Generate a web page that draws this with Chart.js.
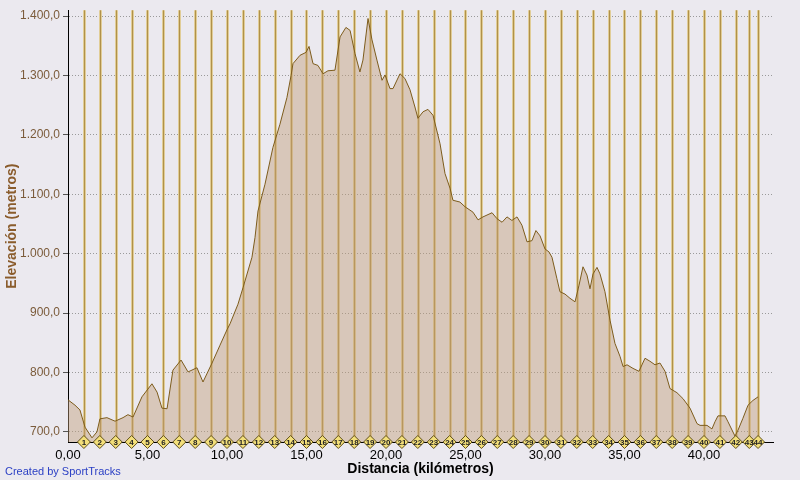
<!DOCTYPE html>
<html>
<head>
<meta charset="utf-8">
<script src="https://cdn.jsdelivr.net/npm/chart.js@4.4.0/dist/chart.umd.min.js"></script>
<style>
    html, body { margin: 0; padding: 0; background: #ebe9ef; }
    #wrap { width: 800px; height: 480px; position: relative; }
</style>
</head>
<body>
<div id="wrap"><canvas id="perfil"></canvas></div>
<script>
// perfil de elevación
const distKm = [0, 0.44, 0.75, 1.07, 1.51, 1.82, 2.01, 2.45, 2.96, 3.46,
    3.77, 4.09, 4.65, 5.28, 5.60, 5.91, 6.23, 6.60, 7.11, 7.55,
    8.11, 8.49, 9.06, 9.56, 10.00, 10.19, 10.69, 11.01, 11.57, 11.76,
    11.95, 12.39, 12.89, 13.33, 13.77, 14.03, 14.15, 14.59, 14.97, 15.16,
    15.41, 15.72, 16.04, 16.35, 16.79, 17.11, 17.48, 17.74, 18.05, 18.36,
    18.55, 18.87, 19.12, 19.43, 19.75, 19.94, 20.25, 20.44, 20.88, 21.19,
    21.51, 21.82, 22.01, 22.33, 22.64, 22.96, 23.40, 23.71, 24.03, 24.21,
    24.65, 24.97, 25.47, 25.79, 26.10, 26.67, 26.98, 27.30, 27.61, 27.92,
    28.24, 28.55, 28.87, 29.18, 29.43, 29.69, 30.00, 30.25, 30.44, 30.75,
    30.94, 31.26, 31.57, 31.89, 32.14, 32.39, 32.64, 32.83, 33.02, 33.27,
    33.46, 33.77, 34.09, 34.40, 34.72, 34.91, 35.16, 35.53, 35.91, 36.29,
    36.60, 36.92, 37.23, 37.55, 37.86, 38.30, 38.68, 39.12, 39.56, 39.75,
    40.19, 40.50, 40.69, 40.88, 41.32, 41.51, 41.82, 41.95, 42.14, 42.45,
    42.77, 43.08, 43.40];

const elevation = [754, 745, 737, 708, 690, 700, 722, 724, 718, 724,
    729, 725, 759, 781, 767, 740, 739, 804, 821, 801,
    808, 784, 816, 846, 872, 882, 915, 943, 994, 1027,
    1072, 1117, 1179, 1218, 1263, 1300, 1320, 1334, 1339, 1349,
    1320, 1317, 1303, 1308, 1309, 1365, 1381, 1376, 1337, 1306,
    1326, 1396, 1360, 1326, 1292, 1301, 1278, 1278, 1303, 1295,
    1276, 1247, 1228, 1239, 1243, 1233, 1185, 1135, 1110, 1090,
    1087, 1079, 1070, 1057, 1062, 1069, 1059, 1053, 1062, 1056,
    1062, 1048, 1020, 1022, 1039, 1030, 1008, 1003, 994, 958,
    936, 932, 925, 919, 947, 978, 964, 941, 966, 977,
    966, 936, 888, 849, 827, 810, 813, 807, 802, 824,
    819, 813, 816, 802, 773, 766, 756, 740, 714, 711,
    711, 705, 717, 727, 727, 717, 700, 693, 703, 723,
    745, 753, 759];

// marcas de kilómetro (1..42, luego 43 y 44 al final)
const markerKm = [1, 2, 3, 4, 5, 6, 7, 8, 9, 10, 11, 12, 13, 14, 15, 16, 17, 18, 19, 20,
    21, 22, 23, 24, 25, 26, 27, 28, 29, 30, 31, 32, 33, 34, 35, 36, 37, 38, 39, 40,
    41, 42, 42.85, 43.4];
const markerLabels = markerKm.map((k, i) => String(i + 1));

const yTicks = [700, 800, 900, 1000, 1100, 1200, 1300, 1400];
const xTicks = [0, 5, 10, 15, 20, 25, 30, 35, 40];

const Y_MIN = 683;
const Y_MAX = 1410;
const X_MAX = 44.34;

function fmtElev(v) {
    const s = String(Math.round(v));
    const int = s.length > 3 ? s.slice(0, -3) + '.' + s.slice(-3) : s;
    return int + ',0';
}
function fmtKm(v) {
    return v.toFixed(2).replace('.', ',');
}

// líneas verticales de cada km (debajo del relleno)
const kmLinesPlugin = {
    id: 'kmLines',
    beforeDatasetsDraw(chart) {
        const { ctx, chartArea, scales } = chart;
        ctx.save();
        markerKm.forEach(k => {
            const x = Math.round(scales.x.getPixelForValue(k)) + 0.5;
            ctx.beginPath();
            ctx.strokeStyle = '#eedcaa';
            ctx.lineWidth = 3;
            ctx.moveTo(x, chartArea.top);
            ctx.lineTo(x, chartArea.bottom);
            ctx.stroke();
            ctx.beginPath();
            ctx.strokeStyle = '#b0914a';
            ctx.lineWidth = 1.4;
            ctx.moveTo(x, chartArea.top);
            ctx.lineTo(x, chartArea.bottom);
            ctx.stroke();
        });
        ctx.restore();
    }
};

// números dentro de los rombos + crédito
const markerTextPlugin = {
    id: 'markerText',
    afterDatasetsDraw(chart) {
        const { ctx } = chart;
        const meta = chart.getDatasetMeta(1);
        ctx.save();
        ctx.font = 'bold 8px "Liberation Sans", Arial, sans-serif';
        ctx.fillStyle = '#222';
        ctx.textAlign = 'center';
        ctx.textBaseline = 'middle';
        meta.data.forEach((pt, i) => {
            ctx.fillText(markerLabels[i], pt.x, pt.y + 0.5);
        });
        ctx.restore();
    },
    afterDraw(chart) {
        const { ctx } = chart;
        ctx.save();
        ctx.font = '11px "Liberation Sans", Arial, sans-serif';
        ctx.fillStyle = '#2a3fc4';
        ctx.textAlign = 'left';
        ctx.textBaseline = 'alphabetic';
        ctx.fillText('Created by SportTracks', 5, 475);
        ctx.restore();
    }
};

new Chart(document.getElementById('perfil'), {
    type: 'line',
    data: {
        datasets: [{
            label: 'Elevación',
            data: distKm.map((d, i) => ({ x: d, y: elevation[i] })),
            borderColor: '#7d5c1c',
            borderWidth: 1,
            backgroundColor: 'rgba(192, 158, 122, 0.45)',
            fill: 'start',
            pointRadius: 0,
            tension: 0,
            order: 2
        }, {
            type: 'scatter',
            label: 'km',
            data: markerKm.map(k => ({ x: k, y: Y_MIN })),
            pointStyle: 'rectRot',
            pointRadius: 6.5,
            backgroundColor: '#f3df7a',
            borderColor: '#5e4e18',
            borderWidth: 1,
            clip: false,
            order: 1
        }]
    },
    options: {
        responsive: true,
        maintainAspectRatio: false,
        animation: false,
        layout: { padding: { top: 10, right: 27, left: 0, bottom: 0 } },
        plugins: {
            legend: { display: false },
            tooltip: { enabled: false }
        },
        scales: {
            x: {
                type: 'linear',
                min: 0,
                max: X_MAX,
                afterBuildTicks: s => { s.ticks = xTicks.map(v => ({ value: v })); },
                afterFit: s => { s.height = 38; },
                grid: { display: false, drawTicks: false },
                border: { display: true, color: '#000', width: 1 },
                ticks: {
                    callback: v => fmtKm(v),
                    color: '#000',
                    font: { family: '"Liberation Sans", Arial, sans-serif', size: 13 },
                    padding: 6,
                    maxRotation: 0,
                    autoSkip: false
                },
                title: {
                    display: true,
                    text: 'Distancia (kilómetros)',
                    color: '#000',
                    font: { family: '"Liberation Sans", Arial, sans-serif', size: 14, weight: 'bold' },
                    padding: { top: 0, bottom: 2 }
                }
            },
            y: {
                min: Y_MIN,
                max: Y_MAX,
                afterBuildTicks: s => { s.ticks = yTicks.map(v => ({ value: v })); },
                afterFit: s => { s.width = 68; },
                grid: {
                    color: '#9a9a9a',
                    lineWidth: 1,
                    drawTicks: true,
                    tickLength: 5,
                    tickColor: '#555',
                    tickWidth: 1,
                    tickBorderDash: []
                },
                border: { display: true, color: '#000', width: 1, dash: [1, 2] },
                ticks: {
                    callback: v => fmtElev(v),
                    color: '#7b5b3a',
                    font: { family: '"Liberation Sans", Arial, sans-serif', size: 12 },
                    padding: 3
                },
                title: {
                    display: true,
                    text: 'Elevación (metros)',
                    color: '#8a5c2c',
                    font: { family: '"Liberation Sans", Arial, sans-serif', size: 14, weight: 'bold' },
                    padding: { top: 4, bottom: 0 }
                }
            }
        }
    },
    plugins: [kmLinesPlugin, markerTextPlugin]
});
</script>
</body>
</html>
